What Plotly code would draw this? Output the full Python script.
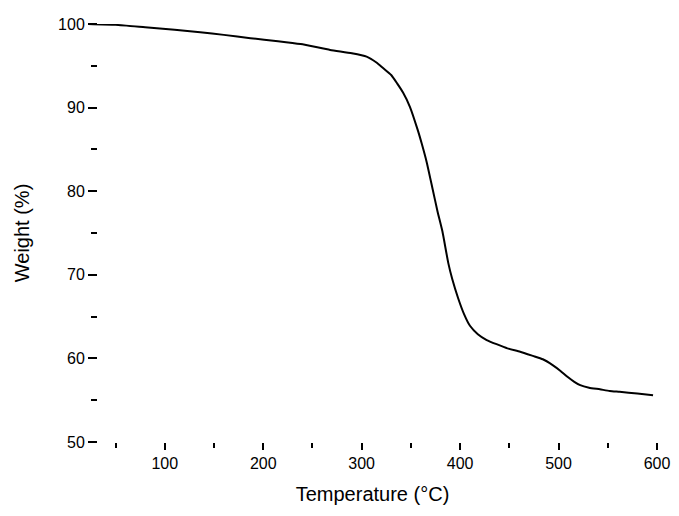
import plotly.graph_objects as go

temperature = [22, 50, 80, 110, 136, 160, 187, 215, 238, 268, 290, 305, 315, 322, 330, 336, 342,
               349, 357, 361, 366, 372, 377, 382, 388, 392, 398, 404, 410, 418, 427, 437,
               448, 461, 474, 484, 494, 502, 509, 516, 522, 531, 542, 552, 562, 580, 596]
weight = [100.0, 99.9, 99.6, 99.3, 99.0, 98.7, 98.3, 97.95, 97.6, 96.9, 96.5, 96.1, 95.4, 94.7,
          93.9, 92.9, 91.8, 90.1, 87.3, 85.7, 83.5, 80.3, 77.6, 75.2, 71.4, 69.5, 67.2,
          65.3, 63.9, 62.9, 62.2, 61.7, 61.2, 60.8, 60.3, 59.9, 59.2, 58.5, 57.8, 57.2,
          56.8, 56.5, 56.3, 56.1, 56.0, 55.8, 55.6]

x_ticks = [100, 200, 300, 400, 500, 600]
y_ticks = [50, 60, 70, 80, 90, 100]

fig = go.Figure()
fig.add_trace(go.Scatter(x=temperature, y=weight, mode="lines",
                         line=dict(color="black", width=2, shape="spline", smoothing=0.5),
                         showlegend=False))

font = "Liberation Sans, Arial, sans-serif"
fig.update_layout(
    width=671, height=508,
    margin=dict(l=80, r=22, t=16, b=74),
    paper_bgcolor="white", plot_bgcolor="white",
    font=dict(family=font, color="black", size=16),
    xaxis=dict(range=[22, 600], tickvals=x_ticks, ticks="outside", ticklen=7, tickwidth=1.5,
               tickcolor="black", showgrid=False, zeroline=False, showline=False,
               automargin=False,
               minor=dict(tickvals=[50, 150, 250, 350, 450, 550], ticks="outside", ticklen=5,
                          tickwidth=1.5, tickcolor="black"),
               title=dict(text="Temperature (°C)", font=dict(size=20), standoff=15),
               tickfont=dict(size=16)),
    yaxis=dict(range=[50, 100], tickvals=y_ticks, ticks="outside", ticklen=9, tickwidth=1.5,
               tickcolor="black", showgrid=False, zeroline=False, showline=False,
               automargin=False, anchor="free", position=0.0158,
               minor=dict(tickvals=[55, 65, 75, 85, 95], ticks="outside", ticklen=6,
                          tickwidth=1.5, tickcolor="black"),
               title=dict(text="Weight (%)", font=dict(size=20), standoff=22),
               tickfont=dict(size=16)),
)

fig.write_html("out.html")
